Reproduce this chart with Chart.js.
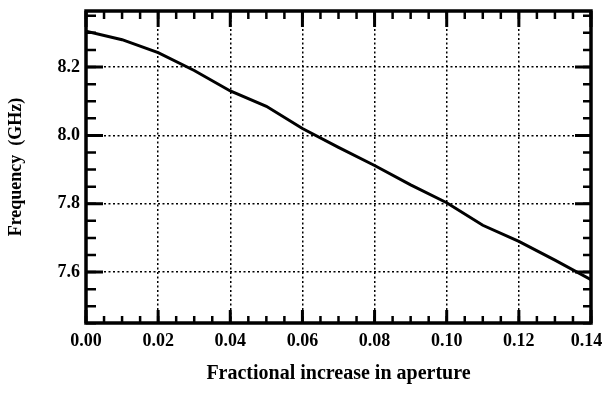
<!DOCTYPE html>
<html>
<head>
<meta charset="utf-8">
<script src="https://cdn.jsdelivr.net/npm/chart.js@4"></script>
<style>
  html, body { margin: 0; padding: 0; background: #fff; }
  #wrap { width: 604px; height: 393px; }
</style>
</head>
<body>
<div id="wrap"><canvas id="freqChart" width="604" height="393"></canvas></div>
<script>
// values
const aperture = [0, 0.01, 0.02, 0.03, 0.04, 0.05, 0.06, 0.07, 0.08, 0.09, 0.10, 0.11, 0.12, 0.13, 0.14];
const frequency = [8.305, 8.28, 8.242, 8.19, 8.13, 8.085, 8.02, 7.965, 7.912, 7.855, 7.803, 7.737, 7.69, 7.635, 7.578];
const xTicks = [0, 0.02, 0.04, 0.06, 0.08, 0.10, 0.12, 0.14];
const yTicks = [7.6, 7.8, 8.0, 8.2];

const serif = '"Liberation Serif", "DejaVu Serif", serif';

// frame + inward ticks on all four sides
const frameTicks = {
    id: 'frameTicks',
    afterDraw(chart) {
        const ctx = chart.ctx;
        const a = chart.chartArea;
        const xs = chart.scales.x, ys = chart.scales.y;
        ctx.save();
        ctx.strokeStyle = '#000';
        ctx.lineCap = 'butt';
        // minor ticks
        ctx.lineWidth = 2.5;
        for (let v = xs.min; v <= xs.max + 1e-9; v += 0.005) {
            const px = xs.getPixelForValue(v);
            ctx.beginPath();
            ctx.moveTo(px, a.bottom); ctx.lineTo(px, a.bottom - 7);
            ctx.moveTo(px, a.top); ctx.lineTo(px, a.top + 8);
            ctx.stroke();
        }
        for (let v = 7.45; v <= ys.max + 1e-9; v += 0.05) {
            const py = ys.getPixelForValue(v);
            ctx.beginPath();
            ctx.moveTo(a.left, py); ctx.lineTo(a.left + 10, py);
            ctx.moveTo(a.right, py); ctx.lineTo(a.right - 8, py);
            ctx.stroke();
        }
        // major ticks
        ctx.lineWidth = 3;
        xTicks.forEach(v => {
            const px = xs.getPixelForValue(v);
            ctx.beginPath();
            ctx.moveTo(px, a.bottom); ctx.lineTo(px, a.bottom - 13);
            ctx.moveTo(px, a.top); ctx.lineTo(px, a.top + 16);
            ctx.stroke();
        });
        yTicks.forEach(v => {
            const py = ys.getPixelForValue(v);
            ctx.beginPath();
            ctx.moveTo(a.left, py); ctx.lineTo(a.left + 17, py);
            ctx.moveTo(a.right, py); ctx.lineTo(a.right - 16, py);
            ctx.stroke();
        });
        ctx.lineWidth = 3.5;
        ctx.strokeRect(a.left, a.top, a.right - a.left, a.bottom - a.top);
        ctx.restore();
    }
};

new Chart(document.getElementById('freqChart').getContext('2d'), {
    type: 'line',
    data: {
        datasets: [{
            data: aperture.map((x, i) => ({ x: x, y: frequency[i] })),
            borderColor: '#000',
            borderWidth: 3,
            pointRadius: 0,
            tension: 0,
            fill: false
        }]
    },
    options: {
        responsive: false,
        animation: false,
        layout: { padding: { top: 11, right: 13, left: 0, bottom: 0 } },
        plugins: { legend: { display: false }, tooltip: { enabled: false } },
        scales: {
            x: {
                type: 'linear',
                min: 0,
                max: 0.14,
                afterBuildTicks: s => { s.ticks = xTicks.map(v => ({ value: v })); },
                afterFit: s => { s.height = 70; s.paddingLeft = 0; s.paddingRight = 0; },
                grid: { color: '#000', lineWidth: 1.5, drawTicks: false },
                border: { display: false, dash: [2, 2.5] },
                ticks: {
                    color: '#000',
                    padding: 8,
                    maxRotation: 0,
                    font: { family: serif, size: 18, weight: 'bold' },
                    // last label sits a little inside, as in the original
                    callback: v => v.toFixed(2) + (v >= 0.14 - 1e-9 ? '\u2002' : '')
                },
                title: {
                    display: true,
                    text: 'Fractional increase in aperture',
                    color: '#000',
                    padding: { top: 0, bottom: 7 },
                    font: { family: serif, size: 20, weight: 'bold' }
                }
            },
            y: {
                type: 'linear',
                min: 7.451,
                max: 8.364,
                afterBuildTicks: s => { s.ticks = yTicks.map(v => ({ value: v })); },
                afterFit: s => { s.width = 86; s.paddingTop = 0; s.paddingBottom = 0; },
                grid: { color: '#000', lineWidth: 1.5, drawTicks: false },
                border: { display: false, dash: [2, 2.5] },
                ticks: {
                    color: '#000',
                    padding: 6,
                    font: { family: serif, size: 18, weight: 'bold' },
                    callback: v => v.toFixed(1)
                },
                title: {
                    display: true,
                    text: 'Frequency  (GHz)',
                    color: '#000',
                    padding: { top: 6, bottom: 0 },
                    font: { family: serif, size: 18, weight: 'bold' }
                }
            }
        }
    },
    plugins: [frameTicks]
});
</script>
</body>
</html>
